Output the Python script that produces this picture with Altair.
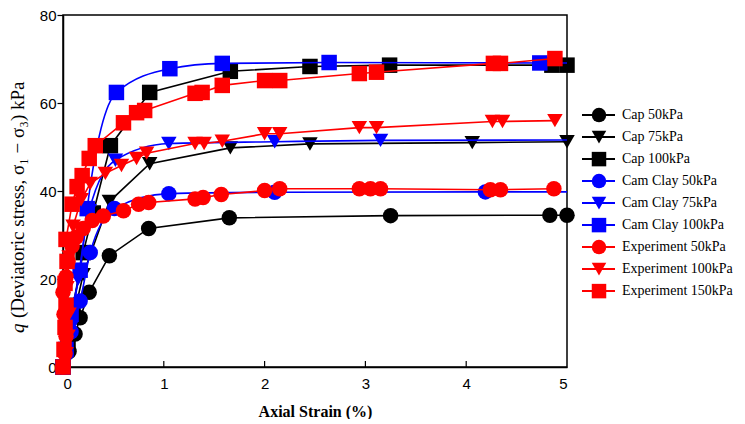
import altair as alt
import pandas as pd

# ---------------- data ----------------
series_names = ["Cap 50kPa", "Cap 75kPa", "Cap 100kPa",
                "Cam Clay 50kPa", "Cam Clay 75kPa", "Cam Clay 100kPa",
                "Experiment 50kPa", "Experiment 100kPa", "Experiment 150kPa"]
series_colors = ["#000000", "#000000", "#000000",
                 "#0000ff", "#0000ff", "#0000ff",
                 "#ff0000", "#ff0000", "#ff0000"]
series_shapes = ["circle", "triangle-down", "square",
                 "circle", "triangle-down", "square",
                 "circle", "triangle-down", "square"]
series_group = ["cap", "cap", "cap", "cam", "cam", "cam", "exp", "exp", "exp"]

cap50_x = [0, 0.06, 0.12, 0.17, 0.26, 0.46, 0.85, 1.65, 3.25, 4.83, 5.0]
cap50_y = [0, 3.5, 7.5, 11.2, 17.0, 25.3, 31.5, 33.9, 34.4, 34.5, 34.5]

cap75_x = [0, 0.05, 0.10, 0.20, 0.46, 0.86, 1.66, 2.45, 4.06, 5.0]
cap75_y = [0, 5.0, 11.0, 21.0, 37.6, 46.2, 49.8, 50.7, 51.0, 51.2]

cap100_x = [0, 0.05, 0.10, 0.20, 0.30, 0.47, 0.86, 1.66, 2.45, 3.24, 4.85, 5.0]
cap100_y = [0, 6.0, 14.0, 26.0, 35.0, 50.3, 62.4, 67.2, 68.3, 68.6, 68.6, 68.6]

cc50_x = [0, 0.03, 0.08, 0.17, 0.27, 0.51, 1.05, 2.10, 4.19, 5.0]
cc50_y = [0, 3.0, 8.0, 15.0, 26.0, 36.0, 39.4, 39.7, 39.8, 39.8]
cc50_m = [1, 1, 1, 1, 1, 1, 1, 1, 1, 0]

cc75_x = [0, 0.03, 0.08, 0.15, 0.26, 0.52, 1.05, 2.10, 3.15, 5.0]
cc75_y = [0, 3.0, 9.0, 20.0, 35.5, 47.0, 50.8, 51.2, 51.5, 51.6]
cc75_m = [1, 1, 1, 1, 1, 1, 1, 1, 1, 0]

cc100_x = [0, 0.03, 0.08, 0.17, 0.24, 0.53, 1.06, 1.58, 2.64, 4.73, 5.0]
cc100_y = [0, 4.0, 12.0, 22.0, 36.0, 62.4, 67.8, 69.0, 69.2, 69.1, 69.1]
cc100_m = [1, 1, 1, 1, 1, 1, 1, 1, 1, 1, 0]

exp50_x = [0, 0.02, 0.03, 0.01, 0.0, 0.03, 0.05, 0.09, 0.13, 0.20, 0.29, 0.40,
           0.60, 0.75, 0.85, 1.31, 1.39, 1.57, 2.00, 2.15, 2.94, 3.05, 3.15,
           4.24, 4.34, 4.87]
exp50_y = [0, 3.0, 7.0, 12.0, 17.0, 20.5, 24.0, 27.5, 29.5, 31.5, 33.3, 34.3,
           35.5, 37.0, 37.4, 38.2, 38.5, 39.2, 40.1, 40.5, 40.5, 40.5, 40.5,
           40.3, 40.3, 40.5]

exp100_x = [0, 0.03, 0.05, 0.06, 0.04, 0.06, 0.10, 0.18, 0.27, 0.42, 0.58,
            0.73, 0.83, 1.31, 1.40, 1.58, 2.00, 2.15, 2.94, 3.11, 4.26, 4.36, 4.88]
exp100_y = [0, 3.0, 7.0, 12.0, 18.0, 25.0, 32.0, 38.0, 41.7, 44.0, 45.8,
            47.4, 48.6, 50.8, 50.8, 51.3, 53.0, 53.0, 54.4, 54.4, 55.8, 55.8, 56.0]

exp150_x = [0, 0.01, 0.02, 0.03, 0.02, 0.04, 0.03, 0.09, 0.14, 0.19, 0.26, 0.32,
            0.60, 0.73, 0.81, 1.31, 1.38, 1.58, 2.00, 2.15, 2.94, 3.11, 4.27, 4.34, 4.88]
exp150_y = [0, 4.0, 9.0, 14.0, 19.0, 24.0, 29.0, 37.0, 41.0, 43.5, 47.4, 50.3,
            55.5, 57.8, 58.3, 62.2, 62.4, 64.0, 65.1, 65.1, 66.7, 67.0, 69.0, 69.0, 70.1]

series_x = [cap50_x, cap75_x, cap100_x, cc50_x, cc75_x, cc100_x, exp50_x, exp100_x, exp150_x]
series_y = [cap50_y, cap75_y, cap100_y, cc50_y, cc75_y, cc100_y, exp50_y, exp100_y, exp150_y]
series_m = [None, None, None, cc50_m, cc75_m, cc100_m, None, None, None]

x_ticks = [0, 1, 2, 3, 4, 5]
y_ticks = [0, 20, 40, 60, 80]
y_title_q = "q"
y_title_rest = "(Deviatoric stress, σ₁ − σ₃) kPa"
x_title = "Axial Strain (%)"

SERIF = "Liberation Serif"
SANS = "Liberation Sans"

rows = []
for name, grp, xs, ys, ms in zip(series_names, series_group, series_x, series_y, series_m):
    for i, (xv, yv) in enumerate(zip(xs, ys)):
        rows.append({"series": name, "group": grp, "x": xv, "y": yv, "ord": i,
                     "marker": 1 if ms is None else ms[i]})
df = pd.DataFrame(rows)

color_scale = alt.Scale(domain=series_names, range=series_colors)
shape_scale = alt.Scale(domain=series_names, range=series_shapes)

W, H = 504, 352
x_enc = alt.X("x:Q", scale=alt.Scale(domain=[0, 5], nice=False, zero=False),
              axis=alt.Axis(values=x_ticks, format="d", tickSize=0, labelPadding=9,
                            title=x_title, titleFont=SERIF,
                            titleFontWeight="bold", titleFontSize=16, titlePadding=12,
                            grid=False))
y_enc = alt.Y("y:Q", scale=alt.Scale(domain=[0, 80], nice=False),
              axis=alt.Axis(values=y_ticks, format="d", tickSize=6, labelPadding=1,
                            title=None, grid=False))

base = alt.Chart(df)

def lines(grp, interp):
    return base.transform_filter(alt.datum.group == grp).mark_line(
        strokeWidth=1.6, interpolate=interp).encode(
        x=x_enc, y=y_enc, detail="series:N", order="ord:Q",
        color=alt.Color("series:N", scale=color_scale, legend=None))

def points(grp):
    return base.transform_filter((alt.datum.group == grp) & (alt.datum.marker == 1)).mark_point(
        filled=True, opacity=1, clip=False).encode(
        x=x_enc, y=y_enc,
        color=alt.Color("series:N", scale=color_scale, legend=None),
        shape=alt.Shape("series:N", scale=shape_scale, legend=None),
        size=alt.value(240))

tick_df = pd.DataFrame({"x": [1, 2, 3, 4]})
xticks_in = alt.Chart(tick_df).mark_rule(color="black", strokeWidth=1.2).encode(
    x=x_enc, y=alt.value(H), y2=alt.value(H - 6))

data_layers = alt.layer(
    lines("cap", "linear"), points("cap"),
    lines("cam", "monotone"), points("cam"),
    lines("exp", "linear"), points("exp"),
    xticks_in,
)

# ---------------- legend (drawn to the right of the plot) ----------------
leg_df = pd.DataFrame({"series": series_names, "idx": list(range(len(series_names)))})
leg_y = alt.Y("idx:Q", scale=alt.Scale(domain=[-4.55, 11.45], reverse=True, nice=False, zero=False),
              axis=None)
leg_base = alt.Chart(leg_df)
leg_rule = leg_base.mark_rule(strokeWidth=2).encode(
    y=leg_y, x=alt.value(W + 15), x2=alt.value(W + 48),
    color=alt.Color("series:N", scale=color_scale, legend=None))
leg_pt = leg_base.mark_point(filled=True, opacity=1, clip=False).encode(
    y=leg_y, x=alt.value(W + 32),
    color=alt.Color("series:N", scale=color_scale, legend=None),
    shape=alt.Shape("series:N", scale=shape_scale, legend=None),
    size=alt.value(210))
leg_txt = leg_base.mark_text(align="left", baseline="middle", font=SERIF,
                             fontSize=14, color="black").encode(
    y=leg_y, x=alt.value(W + 55), text="series:N")
legend_layers = alt.layer(leg_rule, leg_pt, leg_txt)

# ---------------- y axis title with italic q ----------------
yt_df = pd.DataFrame({"q": [y_title_q], "rest": [y_title_rest]})
yt_q = alt.Chart(yt_df).mark_text(angle=270, align="left", baseline="middle", font=SERIF,
                                  fontSize=19, fontStyle="italic", color="black").encode(
    text="q:N", x=alt.value(-45), y=alt.value(318))
yt_rest = alt.Chart(yt_df).mark_text(angle=270, align="left", baseline="middle", font=SERIF,
                                     fontSize=19, color="black").encode(
    text="rest:N", x=alt.value(-45), y=alt.value(303))

chart = alt.layer(data_layers, legend_layers, yt_q, yt_rest).resolve_scale(
    y="independent"
).properties(
    width=W, height=H,
    view=alt.ViewBackground(stroke="black", strokeWidth=1.5),
    padding={"left": 0, "top": 0, "right": 0, "bottom": 0}
).configure_axis(
    domainColor="black", domainWidth=1.5, tickColor="black", tickWidth=1.2,
    labelColor="black", labelFont=SANS, labelFontSize=15,
    titleColor="black"
)

chart.save("out.html", embed_options={"renderer": "svg", "actions": False})
